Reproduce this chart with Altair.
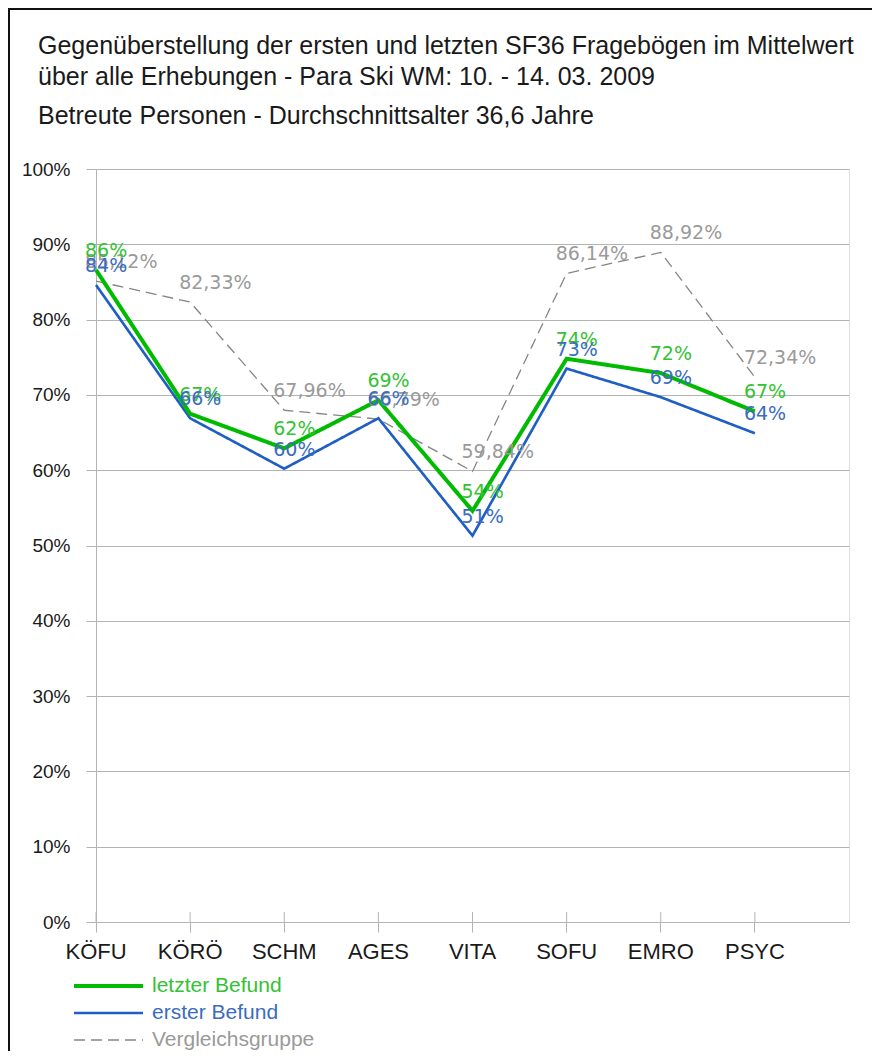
import altair as alt
import pandas as pd

categories = ["KÖFU", "KÖRÖ", "SCHM", "AGES", "VITA", "SOFU", "EMRO", "PSYC"]
letzter_befund = [86.6, 67.5, 62.9, 69.3, 54.6, 74.8, 72.9, 67.8]
erster_befund = [84.6, 66.9, 60.2, 66.9, 51.3, 73.5, 69.7, 64.9]
vergleichsgruppe = [85.12, 82.33, 67.96, 66.79, 59.84, 86.14, 88.92, 72.34]
y_ticks = [0, 10, 20, 30, 40, 50, 60, 70, 80, 90, 100]

series_names = ["letzter Befund", "erster Befund", "Vergleichsgruppe"]
line_colors = ["#00bb00", "#1f5fc4", "#858585"]
text_colors = ["#33c233", "#3a6cc0", "#9a9a9a"]
line_widths = [4, 1.3, 1.2]
line_dashes = [[1, 0], [1, 0], [11, 6]]

title_lines = [
    "Gegenüberstellung der ersten und letzten SF36 Fragebögen im Mittelwert",
    "über alle Erhebungen - Para Ski WM: 10. - 14. 03. 2009",
    "Betreute Personen - Durchschnittsalter 36,6 Jahre",
]

rows = []
for name, vals in zip(series_names, [letzter_befund, erster_befund, vergleichsgruppe]):
    for c, v in zip(categories, vals):
        if name == "Vergleichsgruppe":
            lab = f"{v:.2f}".replace(".", ",") + "%"
        else:
            lab = f"{int(v)}%"
        rows.append({"series": name, "cat": c, "value": v, "label": lab})
df = pd.DataFrame(rows)
leg_df = pd.DataFrame({"series": series_names, "row": list(range(len(series_names)))})
cat_df = pd.DataFrame({"cat": categories})
title_df = pd.DataFrame({"text": title_lines, "line": list(range(len(title_lines)))})

stroke_scale = alt.Scale(domain=series_names, range=line_colors)
fill_scale = alt.Scale(domain=series_names, range=text_colors)
width_scale = alt.Scale(domain=series_names, range=line_widths)
dash_scale = alt.Scale(domain=series_names, range=line_dashes)

x_enc = alt.X(
    "cat:N", sort=categories, bandPosition=0,
    scale=alt.Scale(type="band", paddingInner=0, paddingOuter=0),
    axis=alt.Axis(title=None, bandPosition=0, labelAngle=0, labelAlign="center",
                  labelOffset=-47, tickSize=10, labelPadding=19,
                  labelFont="Liberation Sans", labelFontSize=22, labelColor="#1a1a1a",
                  domainColor="#b3b3b3", tickColor="#b3b3b3", grid=False),
)
y_enc = alt.Y(
    "value:Q", scale=alt.Scale(domain=[0, 100], nice=False),
    axis=alt.Axis(values=y_ticks, labelExpr="datum.value + '%'", title=None,
                  grid=True, gridColor="#b3b3b3", tickColor="#b3b3b3",
                  domainColor="#b3b3b3", tickSize=10, labelPadding=16,
                  labelFont="Liberation Sans", labelFontSize=19, labelColor="#1a1a1a"),
)

layers = []
layers.append(
    alt.Chart(cat_df).mark_rule(color="#b3b3b3", strokeWidth=1).encode(
        x=alt.X("cat:N", sort=categories, bandPosition=0),
        y=alt.value(743), y2=alt.value(753),
    )
)
for name in ["Vergleichsgruppe", "erster Befund", "letzter Befund"]:
    layers.append(
        alt.Chart(df).transform_filter(alt.datum.series == name).mark_line().encode(
            x=x_enc, y=y_enc,
            stroke=alt.Stroke("series:N", scale=stroke_scale, legend=None),
            strokeWidth=alt.StrokeWidth("series:N", scale=width_scale, legend=None),
            strokeDash=alt.StrokeDash("series:N", scale=dash_scale, legend=None),
        )
    )
for name in ["Vergleichsgruppe", "letzter Befund", "erster Befund"]:
    layers.append(
        alt.Chart(df).transform_filter(alt.datum.series == name).mark_text(
            align="left", baseline="middle", dx=-11, dy=-19,
            font="DejaVu Sans", fontSize=19,
        ).encode(
            x=x_enc, y=y_enc, text="label:N",
            fill=alt.Fill("series:N", scale=fill_scale, legend=None),
        )
    )

leg_y = alt.Y("row:Q", scale=alt.Scale(domain=[0, 2], range=[817, 871]), axis=None)
legend_lines = alt.Chart(leg_df).mark_rule().encode(
    x=alt.value(-22), x2=alt.value(47), y=leg_y,
    stroke=alt.Stroke("series:N", scale=stroke_scale, legend=None),
    strokeWidth=alt.StrokeWidth("series:N", scale=width_scale, legend=None),
    strokeDash=alt.StrokeDash("series:N", scale=dash_scale, legend=None),
)
legend_text = alt.Chart(leg_df).mark_text(
    align="left", baseline="middle", font="Liberation Sans", fontSize=21
).encode(
    x=alt.value(56), y=leg_y, text="series:N",
    fill=alt.Fill("series:N", scale=fill_scale, legend=None),
)

title_y = alt.Y("line:Q", scale=alt.Scale(domain=[0, 1], range=[-123, -92]), axis=None)
title_text = alt.Chart(title_df).transform_filter(alt.datum.line < 2).mark_text(
    align="left", baseline="middle", font="Liberation Sans", fontSize=25, color="#1a1a1a"
).encode(x=alt.value(-58), y=title_y, text="text:N")
subtitle_text = alt.Chart(title_df).transform_filter(alt.datum.line == 2).mark_text(
    align="left", baseline="middle", font="Liberation Sans", fontSize=25, color="#1a1a1a"
).encode(x=alt.value(-58), y=alt.value(-53), text="text:N")

frame_top = alt.Chart(cat_df).mark_rule(color="#111111", strokeWidth=2).encode(
    x=alt.value(-90), x2=alt.value(800), y=alt.value(-160)
)
frame_left = alt.Chart(cat_df).mark_rule(color="#111111", strokeWidth=2).encode(
    x=alt.value(-87), y=alt.value(-160), y2=alt.value(900)
)

main = alt.layer(*layers)
chart = alt.layer(
    main, alt.layer(legend_lines, legend_text), title_text, subtitle_text, frame_top, frame_left
).resolve_scale(y="independent").properties(
    width=753, height=753,
    autosize=alt.AutoSizeParams(type="none"),
    padding={"left": 88, "top": 161, "right": 23, "bottom": 129},
).configure_view(stroke="#b3b3b3", strokeWidth=1).configure(background="white")

chart.save("out.html", embed_options={"renderer": "svg", "actions": False})
